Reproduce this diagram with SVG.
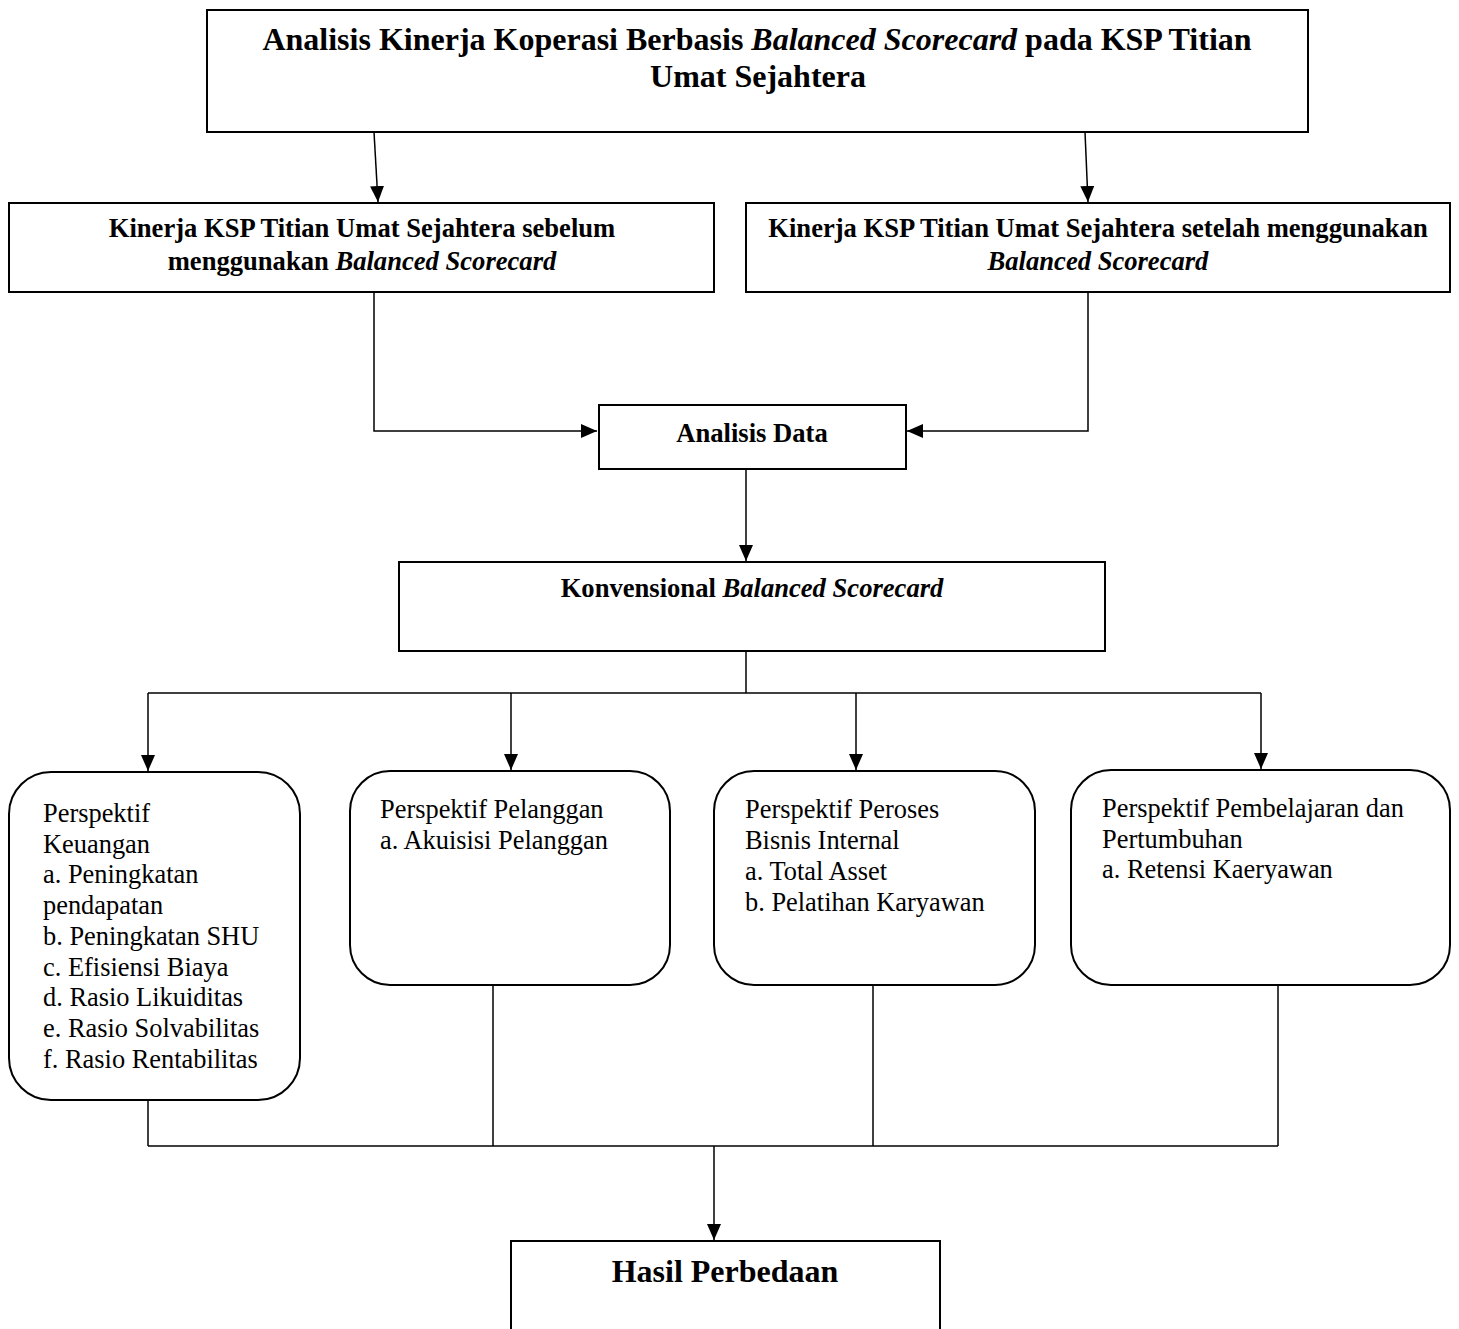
<svg xmlns="http://www.w3.org/2000/svg" width="1459" height="1329" viewBox="0 0 1459 1329">
<style>
.box{fill:#fff;stroke:#000;stroke-width:2}
.b{font-family:"Liberation Serif","Times New Roman",serif;font-weight:bold;fill:#000}
.r{font-family:"Liberation Serif","Times New Roman",serif;font-size:26.4px;fill:#000}
.ln{fill:none;stroke:#000;stroke-width:1.5}
</style>
<defs>
<marker id="ah" markerUnits="userSpaceOnUse" markerWidth="16" markerHeight="14" refX="16" refY="7" orient="auto">
<path d="M0,0 L16,7 L0,14 z" fill="#000"/>
</marker>
</defs>
<rect width="1459" height="1329" fill="#fff"/>
<g id="title">
<rect class="box" x="207" y="10" width="1101" height="122"/>
<text class="b" font-size="32" text-anchor="middle" x="757" y="50">Analisis Kinerja Koperasi Berbasis <tspan font-style="italic">Balanced Scorecard</tspan> pada KSP Titian</text>
<text class="b" font-size="32" text-anchor="middle" x="758" y="87">Umat Sejahtera</text>
</g>
<g id="sebelum">
<rect class="box" x="9" y="203" width="705" height="89"/>
<text class="b" font-size="26.6" text-anchor="middle" x="362" y="237">Kinerja KSP Titian Umat Sejahtera sebelum</text>
<text class="b" font-size="26.6" text-anchor="middle" x="362" y="270">menggunakan <tspan font-style="italic">Balanced Scorecard</tspan></text>
</g>
<g id="setelah">
<rect class="box" x="746" y="203" width="704" height="89"/>
<text class="b" font-size="26.6" text-anchor="middle" x="1098" y="237">Kinerja KSP Titian Umat Sejahtera setelah menggunakan</text>
<text class="b" font-size="26.6" text-anchor="middle" x="1098" y="270" font-style="italic">Balanced Scorecard</text>
</g>
<g id="analisis">
<rect class="box" x="599" y="405" width="307" height="64"/>
<text class="b" font-size="26.6" text-anchor="middle" x="752" y="442">Analisis Data</text>
</g>
<g id="konvensional">
<rect class="box" x="399" y="562" width="706" height="89"/>
<text class="b" font-size="26.6" text-anchor="middle" x="752" y="597">Konvensional <tspan font-style="italic">Balanced Scorecard</tspan></text>
</g>
<g id="keuangan">
<rect class="box" x="9" y="772" width="291" height="328" rx="42"/>
<text class="r" x="43" y="822">Perspektif</text>
<text class="r" x="43" y="853">Keuangan</text>
<text class="r" x="43" y="883">a. Peningkatan</text>
<text class="r" x="43" y="914">pendapatan</text>
<text class="r" x="43" y="945">b. Peningkatan SHU</text>
<text class="r" x="43" y="976">c. Efisiensi Biaya</text>
<text class="r" x="43" y="1006">d. Rasio Likuiditas</text>
<text class="r" x="43" y="1037">e. Rasio Solvabilitas</text>
<text class="r" x="43" y="1068">f. Rasio Rentabilitas</text>
</g>
<g id="pelanggan">
<rect class="box" x="350" y="771" width="320" height="214" rx="40"/>
<text class="r" x="380" y="818">Perspektif Pelanggan</text>
<text class="r" x="380" y="849">a. Akuisisi Pelanggan</text>
</g>
<g id="proses">
<rect class="box" x="714" y="771" width="321" height="214" rx="40"/>
<text class="r" x="745" y="818">Perspektif Peroses</text>
<text class="r" x="745" y="849">Bisnis Internal</text>
<text class="r" x="745" y="880">a. Total Asset</text>
<text class="r" x="745" y="911">b. Pelatihan Karyawan</text>
</g>
<g id="pembelajaran">
<rect class="box" x="1071" y="770" width="379" height="215" rx="40"/>
<text class="r" x="1102" y="817">Perspektif Pembelajaran dan</text>
<text class="r" x="1102" y="848">Pertumbuhan</text>
<text class="r" x="1102" y="878">a. Retensi Kaeryawan</text>
</g>
<g id="hasil">
<rect class="box" x="511" y="1241" width="429" height="100"/>
<text class="b" font-size="32" text-anchor="middle" x="725" y="1282">Hasil Perbedaan</text>
</g>
<g id="connectors">
<line class="ln" x1="374" y1="132" x2="378" y2="202" marker-end="url(#ah)"/>
<line class="ln" x1="1085" y1="132" x2="1088" y2="202" marker-end="url(#ah)"/>
<polyline class="ln" points="374,292 374,431 597,431" marker-end="url(#ah)"/>
<polyline class="ln" points="1088,292 1088,431 907,431" marker-end="url(#ah)"/>
<line class="ln" x1="746" y1="469" x2="746" y2="561" marker-end="url(#ah)"/>
<line class="ln" x1="746" y1="651" x2="746" y2="693"/>
<line class="ln" x1="148" y1="693" x2="1261" y2="693"/>
<line class="ln" x1="148" y1="693" x2="148" y2="771" marker-end="url(#ah)"/>
<line class="ln" x1="511" y1="693" x2="511" y2="770" marker-end="url(#ah)"/>
<line class="ln" x1="856" y1="693" x2="856" y2="770" marker-end="url(#ah)"/>
<line class="ln" x1="1261" y1="693" x2="1261" y2="769" marker-end="url(#ah)"/>
<line class="ln" x1="148" y1="1100" x2="148" y2="1146"/>
<line class="ln" x1="493" y1="985" x2="493" y2="1146"/>
<line class="ln" x1="873" y1="985" x2="873" y2="1146"/>
<line class="ln" x1="1278" y1="985" x2="1278" y2="1146"/>
<line class="ln" x1="148" y1="1146" x2="1278" y2="1146"/>
<line class="ln" x1="714" y1="1146" x2="714" y2="1240" marker-end="url(#ah)"/>
</g>
</svg>
